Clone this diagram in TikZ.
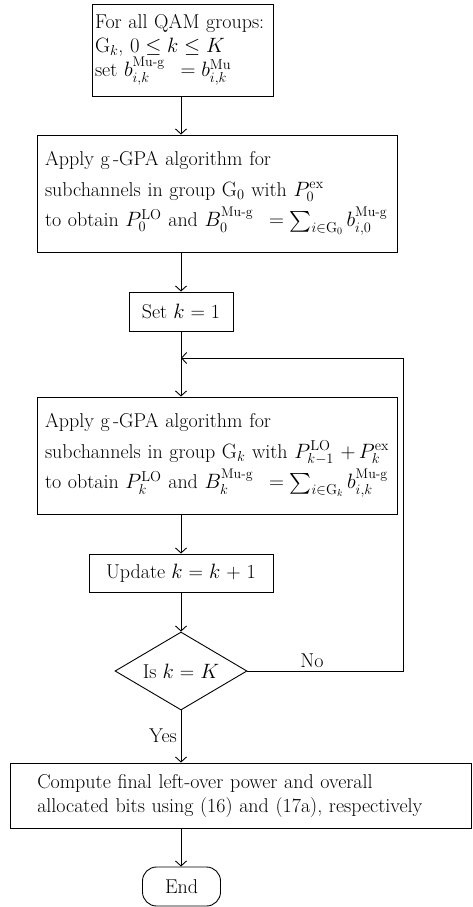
\documentclass[tikz,border=0pt]{standalone}
\usepackage{amsmath}
\usetikzlibrary{arrows.meta,shapes.geometric}

\newcommand{\mug}{\text{Mu-g}}

\tikzset{
  txt/.style={font=\fontsize{20}{24}\selectfont},
  box/.style={draw, line width=0.9pt, rectangle, txt, inner ysep=0pt},
  arr/.style={-{Straight Barb[length=5pt,width=11pt]}, line width=0.9pt},
  ln/.style={line width=0.9pt},
}

\begin{document}
\begin{tikzpicture}[x=1pt,y=-1pt]
\useasboundingbox (0,0) rectangle (472,907);

% vertical axis of the main flow
\coordinate (ax) at (181,0);

% initialisation
\node[box, minimum width=181pt, minimum height=92pt, text width=175pt,
      inner xsep=3pt, align=left] (init) at (182.5,50)
  {For all QAM groups:\\
   $\mathrm{G}_k$, $0 \le k \le K$\\
   set $b_{i,k}^{\mug}\ \,= b_{i,k}^{\mathrm{Mu}}$};

% first group
\node[box, minimum width=360pt, minimum height=117pt, text width=344pt,
      inner xsep=8pt, align=left, font=\fontsize{20}{30.5}\selectfont] (g0) at (217,193.5)
  {Apply g\,-GPA algorithm for\\
   subchannels in group $\mathrm{G}_0$ with $P_0^{\mathrm{ex}}$\\
   to obtain $P_0^{\mathrm{LO}}$ and $B_0^{\mug}\ \,= \textstyle\sum_{i\in \mathrm{G}_0} b_{i,0}^{\mug}$};

% counter start
\node[box, minimum width=104pt, minimum height=39pt] (setk) at (181,311.5)
  {Set $k$ = 1};

% group k
\node[box, minimum width=360pt, minimum height=117pt, text width=344pt,
      inner xsep=8pt, align=left, font=\fontsize{20}{30.5}\selectfont] (gk) at (217,455.5)
  {Apply g\,-GPA algorithm for\\
   subchannels in group $\mathrm{G}_k$ with $P_{k-1}^{\mathrm{LO}}\, + P_k^{\mathrm{ex}}$\\
   to obtain $P_k^{\mathrm{LO}}$ and $B_k^{\mug}\ \,= \textstyle\sum_{i\in \mathrm{G}_k} b_{i,k}^{\mug}$};

% counter update
\node[box, minimum width=184pt, minimum height=38pt] (upd) at (181,573)
  {Update $k$ = $k$ + 1};

% test
\node[draw, ln, diamond, txt, inner sep=0pt, minimum width=132pt,
      minimum height=78pt, shape aspect=1.69] (test) at (181,671)
  {Is $k$ = $K$};

% final step
\node[box, minimum width=461pt, minimum height=65pt, text width=408pt,
      inner xsep=26.25pt, align=left] (final) at (241.25,795.5)
  {Compute final left-over power and overall\\
   allocated bits using (16) and (17a), respectively};

% terminator
\node[draw, ln, rectangle, rounded corners=14pt, txt, minimum width=78pt,
      minimum height=39pt] (stop) at (181.5,886.5) {End};

% labels
\node[txt] (no) at (312,661) {No};
\node[txt] (yes) at (163,736) {Yes};

% loop corner
\coordinate (lp) at (403,358);

% connectors
\draw[arr] (init.south -| ax) -- (g0.north -| ax);
\draw[arr] (g0.south -| ax) -- (setk.north);
\draw[arr] (setk.south) -- (gk.north -| ax);
\draw[arr] (gk.south -| ax) -- (upd.north);
\draw[arr] (upd.south) -- (test.north);
\draw[arr] (test.south) -- (final.north -| ax);
\draw[arr] (final.south -| ax) -- (stop.north -| ax);
\draw[arr] (test.east) -- (test.east -| lp) -- (lp) -- (lp -| ax);
\end{tikzpicture}
\end{document}
